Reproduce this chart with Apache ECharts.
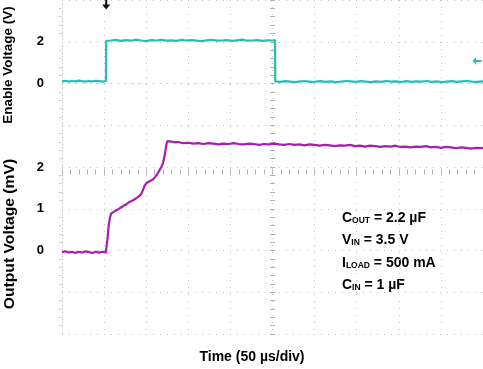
<!DOCTYPE html>
<html>
<head>
<meta charset="utf-8">
<script src="https://cdn.jsdelivr.net/npm/echarts@6/dist/echarts.min.js"></script>
<style>
html,body{margin:0;padding:0;background:#fff;}
#chart{width:483px;height:369px;}
</style>
</head>
<body>
<div id="chart"></div>
<script>
// Time axis: µs (50 µs/div, 10 divisions)
const timeMin = 0, timeMax = 500, timeStep = 50;
// Enable Voltage axis (2 V/div), Output Voltage axis (1 /div)
const enableTickLabels = [0, 2];
const outputTickLabels = [0, 1, 2];

// Enable trace: [time µs, volts]
const enableTrace = [
  [0,0.10],[4,0.13],[8,0.09],[12,0.12],[16,0.10],[20,0.14],[24,0.11],[28,0.09],[32,0.12],[36,0.10],
  [40,0.13],[44,0.11],[48,0.09],[52.2,0.12],[52.4,2.04],
  [58,2.06],[64,2.09],[70,2.04],[76,2.08],[82,2.05],[88,2.10],[94,2.06],[100,2.03],[106,2.08],[112,2.06],
  [118,2.09],[124,2.05],[130,2.07],[136,2.04],[142,2.09],[148,2.06],[154,2.08],[160,2.05],[166,2.03],[172,2.07],
  [178,2.09],[184,2.05],[190,2.06],[196,2.08],[202,2.04],[208,2.07],[214,2.10],[220,2.05],[226,2.06],[232,2.08],
  [238,2.04],[244,2.07],[250,2.06],[253,2.08],[253.3,0.10],
  [259,0.08],[265,0.11],[271,0.09],[277,0.07],[283,0.10],[289,0.12],[295,0.08],[301,0.09],[307,0.11],[313,0.08],
  [319,0.10],[325,0.07],[331,0.09],[337,0.12],[343,0.10],[349,0.08],[355,0.11],[361,0.09],[367,0.07],[373,0.10],
  [379,0.08],[385,0.12],[391,0.09],[397,0.10],[403,0.07],[409,0.11],[415,0.08],[421,0.10],[427,0.09],[433,0.12],
  [439,0.08],[445,0.10],[451,0.07],[457,0.09],[463,0.11],[469,0.08],[475,0.10],[481,0.12],[487,0.09],[493,0.08],
  [499,0.10],[500,0.09]
];

// Output trace: [time µs, value]
const outputTrace = [
  [0,-0.04],[4,-0.02],[8,-0.05],[12,-0.03],[16,-0.06],[20,-0.03],[24,-0.05],[28,-0.02],[32,-0.04],[36,-0.06],
  [40,-0.03],[44,-0.05],[48,-0.03],[52,-0.05],[53.6,-0.04],
  [54,0.28],[55.5,0.60],[57,0.80],[58.5,0.89],[61,0.92],[64,0.96],[67,0.99],[70,1.03],[73,1.07],[76,1.10],
  [79,1.15],[82,1.18],[85,1.21],[88,1.25],[91,1.29],[94,1.35],[96,1.44],[98,1.55],[100,1.61],[102,1.65],
  [105,1.67],[108,1.70],[111,1.77],[114,1.86],[116,1.93],[118,2.00],[120,2.10],[122,2.28],[123.5,2.48],[125,2.62],
  [127,2.64],[130,2.61],[134,2.59],[138,2.60],[144,2.57],[150,2.58],[156,2.56],[162,2.57],[168,2.55],[174,2.57],
  [180,2.56],[186,2.54],[192,2.56],[198,2.55],[204,2.57],[210,2.55],[216,2.54],[222,2.56],[228,2.55],[234,2.53],
  [240,2.55],[246,2.54],[252,2.56],[258,2.54],[264,2.53],[270,2.55],[276,2.53],[282,2.54],[288,2.52],[294,2.54],
  [300,2.53],[306,2.51],[312,2.53],[318,2.52],[324,2.50],[330,2.52],[336,2.51],[342,2.53],[348,2.50],[354,2.51],
  [360,2.49],[366,2.51],[372,2.50],[378,2.48],[384,2.50],[390,2.49],[396,2.51],[402,2.48],[408,2.49],[414,2.47],
  [420,2.49],[426,2.48],[432,2.50],[438,2.47],[444,2.48],[450,2.46],[456,2.48],[462,2.47],[468,2.45],[474,2.47],
  [480,2.46],[486,2.44],[492,2.46],[498,2.45],[500,2.46]
];

// Scope markers: trigger position (top) and enable channel marker (right)
const triggerMarker = [52.5, 3.78];
const enableMarker = [493, 1.08];

// Condition annotation lines
const annotationLines = [
  'C{s|OUT} = 2.2 µF',
  'V{s|IN} = 3.5 V',
  'I{s|LOAD} = 500 mA',
  'C{s|IN} = 1 µF'
];

const FONT = '"Liberation Sans", Arial, Helvetica, sans-serif';
const gridDot = { color: '#c4c4c4', type: [1, 6], width: 1 };
const labelStyle = { color: '#000', fontWeight: 'bold', fontSize: 13, fontFamily: FONT, margin: 18 };

const chart = echarts.init(document.getElementById('chart'), null, { renderer: 'canvas' });

const graphics = [
  {
    type: 'text', x: 8, y: 65, rotation: Math.PI / 2,
    style: { text: 'Enable Voltage (V)', x: 0, y: 0, textAlign: 'center', textVerticalAlign: 'middle',
             fill: '#000', font: 'bold 13.5px ' + FONT }
  },
  {
    type: 'text', x: 10, y: 234, rotation: Math.PI / 2, scaleX: 1.12,
    style: { text: 'Output Voltage (mV)', x: 0, y: 0, textAlign: 'center', textVerticalAlign: 'middle',
             fill: '#000', font: 'bold 14px ' + FONT }
  },
  {
    type: 'text', x: 252, y: 357,
    style: { text: 'Time (50 µs/div)', x: 0, y: 0, textAlign: 'center', textVerticalAlign: 'middle',
             fill: '#000', font: 'bold 14px ' + FONT }
  }
];
annotationLines.forEach((t, i) => {
  graphics.push({
    type: 'text', left: 342, top: 211 + i * 22.5,
    style: {
      text: t,
      fill: '#000',
      font: 'bold 14px ' + FONT,
      rich: {
        s: { fontSize: 8.5, fontWeight: 'bold', fontFamily: FONT, verticalAlign: 'bottom', lineHeight: 12, fill: '#000' }
      }
    }
  });
});

chart.setOption({
  animation: false,
  backgroundColor: '#fff',
  grid: { left: 62, top: 0, right: 0, bottom: 35, containLabel: false },
  xAxis: [
    {
      type: 'value', min: timeMin, max: timeMax, interval: timeStep,
      axisLabel: { show: false },
      axisTick: { show: false },
      axisLine: { show: true, lineStyle: gridDot },
      splitLine: { show: true, lineStyle: gridDot }
    },
    {
      type: 'value', min: timeMin, max: timeMax, interval: timeStep,
      position: 'bottom', offset: -169.5,
      axisLabel: { show: false },
      axisLine: { show: false },
      splitLine: { show: false },
      axisTick: { show: true, length: 5, lineStyle: { color: '#b0b0b0' } },
      minorTick: { show: true, splitNumber: 5, length: 5, lineStyle: { color: '#b0b0b0' } }
    }
  ],
  yAxis: [
    {
      type: 'value', min: -12, max: 4, interval: 2, position: 'left',
      axisLine: { show: true, lineStyle: gridDot },
      axisTick: { show: false },
      minorTick: { show: true, splitNumber: 5, length: 3, lineStyle: { color: '#d0d0d0' } },
      splitLine: { show: true, lineStyle: gridDot },
      axisLabel: Object.assign({}, labelStyle, {
        formatter: v => enableTickLabels.indexOf(v) >= 0 ? String(v) : ''
      })
    },
    {
      type: 'value', min: -2, max: 6, interval: 1, position: 'left', offset: 0,
      axisLine: { show: false },
      axisTick: { show: false },
      splitLine: { show: false },
      axisLabel: Object.assign({}, labelStyle, {
        formatter: v => outputTickLabels.indexOf(v) >= 0 ? String(v) : ''
      })
    },
    {
      type: 'value', min: -12, max: 4, interval: 2, position: 'left', offset: -213,
      axisLine: { show: false },
      axisLabel: { show: false },
      splitLine: { show: false },
      axisTick: { show: true, length: 5, lineStyle: { color: '#b0b0b0' } },
      minorTick: { show: true, splitNumber: 5, length: 5, lineStyle: { color: '#b0b0b0' } }
    }
  ],
  series: [
    {
      name: 'Enable', type: 'line', xAxisIndex: 0, yAxisIndex: 0,
      data: enableTrace, showSymbol: false, symbol: 'none',
      lineStyle: { color: '#26bcbc', width: 2.2 },
      markPoint: {
        label: { show: false },
        data: [
          { coord: triggerMarker, symbol: 'path://M3,0 L5,0 L5,5 L8,5 L4,10 L0,5 L3,5 Z',
            symbolSize: [8, 10], itemStyle: { color: '#111' } },
          { coord: enableMarker, symbol: 'path://M0,4 L4,0 L4,3 L10,3 L10,5 L4,5 L4,8 Z',
            symbolSize: [9, 8], itemStyle: { color: '#26bcbc' } }
        ]
      }
    },
    {
      name: 'Output', type: 'line', xAxisIndex: 0, yAxisIndex: 1,
      data: outputTrace, showSymbol: false, symbol: 'none',
      lineStyle: { color: '#a61fac', width: 2.2 }
    }
  ],
  graphic: graphics
});
</script>
</body>
</html>
